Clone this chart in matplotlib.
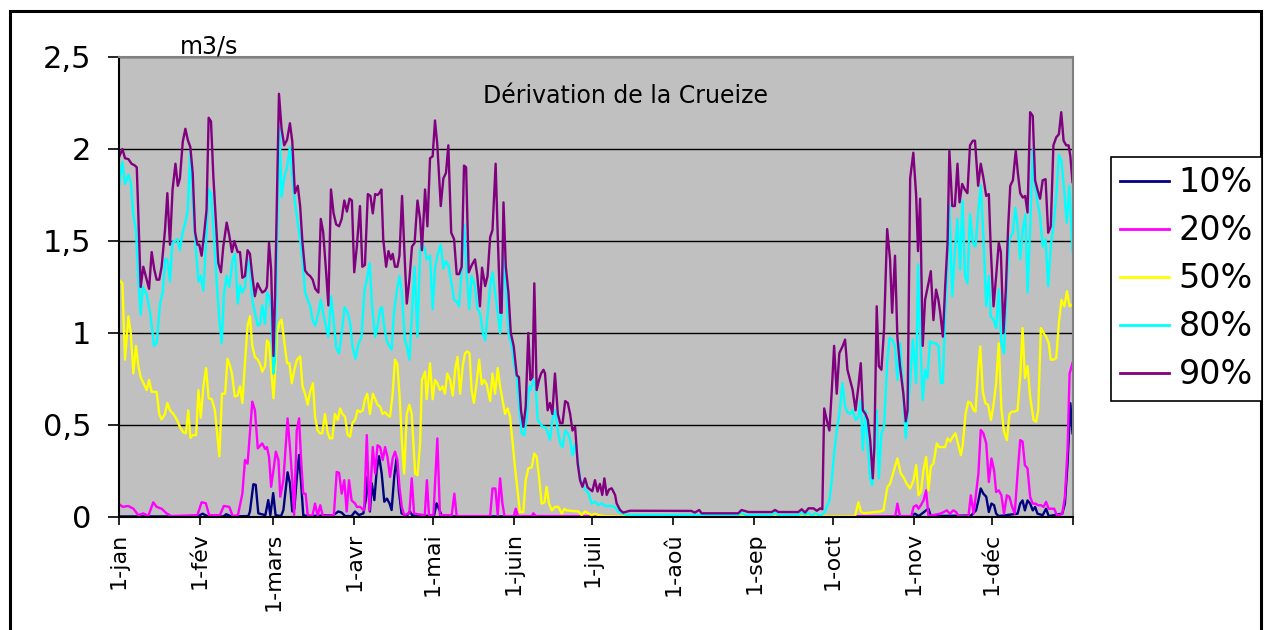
import matplotlib
matplotlib.use('Agg')
import matplotlib.pyplot as plt
from matplotlib.patches import Rectangle

# day of year (0 = 1 jan), flow in m3/s
q10 = [(0, 0.003), (30, 0.003), (32, 0.018), (34, 0.003), (40, 0.003), (41, 0.015), (43, 0.003),
       (49.5, 0.005), (50.1, 0.03), (51.4, 0.178), (52.3, 0.175), (53.3, 0.02), (56.0, 0.01),
       (57.1, 0.092), (57.9, 0.01), (59.0, 0.13), (59.9, 0.01), (62.0, 0.005), (62.9, 0.038),
       (64.5, 0.243), (65.4, 0.183), (66.3, 0.03), (67.1, 0.045), (68.0, 0.21), (68.9, 0.337),
       (69.6, 0.2), (70.5, 0.01), (72, 0.005), (82, 0.01), (83.9, 0.03), (85.2, 0.024), (86.5, 0.005),
       (89, 0.005), (90.3, 0.03), (91.8, 0.01), (93.5, 0.02), (94.4, 0.092), (95.1, 0.22), (96.0, 0.03),
       (96.7, 0.183), (97.7, 0.092), (98.6, 0.255), (99.5, 0.33), (100.5, 0.237), (101.5, 0.083),
       (102.5, 0.10), (103.5, 0.074), (104.3, 0.038), (105.3, 0.22), (106.2, 0.32), (107.1, 0.138),
       (108.1, 0.02), (110, 0.005), (111.3, 0.03), (112.2, 0.01), (120.5, 0.005), (121.5, 0.074),
       (122.4, 0.045), (123.4, 0.01), (125, 0.003), (303, 0.003), (304.5, 0.018), (306, 0.005),
       (308.8, 0.036), (309.7, 0.045), (310.6, 0.005), (326, 0.008), (327.9, 0.036), (328.8, 0.09),
       (329.7, 0.155), (330.7, 0.127), (331.8, 0.11), (332.8, 0.027), (333.8, 0.073), (334.8, 0.064),
       (335.6, 0.018), (336.6, 0.005), (343.8, 0.018), (344.8, 0.073), (345.7, 0.09), (346.6, 0.036),
       (347.6, 0.09), (348.6, 0.073), (349.6, 0.036), (350.5, 0.055), (351.4, 0.018), (353.4, 0.01),
       (354.7, 0.045), (355.7, 0.005), (360.9, 0.018), (361.9, 0.073), (362.9, 0.29), (364.0, 0.618),
       (364.8, 0.455)]

q20 = [(0, 0.07), (1.5, 0.055), (3.5, 0.06), (5.5, 0.045), (7.4, 0.01), (9.3, 0.02), (11.2, 0.005),
       (13.1, 0.08), (14.4, 0.055), (16.3, 0.045), (18.2, 0.02), (20, 0.005), (30, 0.01), (31.6, 0.08),
       (33.2, 0.075), (34.5, 0.01), (38.6, 0.01), (40.1, 0.06), (42.2, 0.055), (43.5, 0.005),
       (45.5, 0.01), (47.2, 0.127), (48.2, 0.31), (49.2, 0.29), (50.1, 0.455), (51.0, 0.627),
       (52.0, 0.58), (53.1, 0.373), (54.8, 0.40), (55.9, 0.37), (56.6, 0.38), (57.4, 0.327),
       (58.2, 0.164), (59.1, 0.255), (60.0, 0.355), (61.0, 0.31), (61.7, 0.11), (62.9, 0.20),
       (64.5, 0.536), (65.4, 0.38), (66.3, 0.20), (67.0, 0.01), (68.0, 0.47), (68.9, 0.536),
       (69.6, 0.327), (70.5, 0.127), (71.4, 0.127), (72.2, 0.01), (74.0, 0.005), (75.0, 0.073),
       (76.0, 0.005), (77.0, 0.064), (78.0, 0.005), (82.2, 0.01), (83.3, 0.245), (84.2, 0.24),
       (85.2, 0.127), (86.2, 0.20), (87.1, 0.03), (88.0, 0.20), (89.0, 0.09), (90.3, 0.074),
       (91.0, 0.055), (92.2, 0.055), (93.8, 0.036), (94.8, 0.445), (95.8, 0.036), (97.1, 0.38),
       (98.0, 0.236), (98.9, 0.39), (99.9, 0.38), (100.9, 0.31), (101.8, 0.38), (102.7, 0.327),
       (103.7, 0.218), (104.7, 0.318), (105.6, 0.355), (106.5, 0.31), (107.3, 0.164), (108.2, 0.055),
       (109.1, 0.01), (111.1, 0.02), (112.0, 0.21), (112.9, 0.018), (117.0, 0.01), (117.8, 0.2),
       (118.6, 0.01), (120.3, 0.01), (121.8, 0.427), (122.8, 0.01), (127.3, 0.01), (128.3, 0.127),
       (129.2, 0.005), (142.0, 0.005), (142.9, 0.155), (144.0, 0.155), (144.9, 0.01), (145.8, 0.21),
       (146.7, 0.073), (147.5, 0.005), (151.0, 0.005), (151.8, 0.045), (152.6, 0.005), (158.0, 0.005),
       (158.5, 0.02), (159.5, 0.005), (297.0, 0.003), (297.8, 0.073), (298.8, 0.005), (303.2, 0.005),
       (304.0, 0.055), (305.1, 0.064), (305.9, 0.045), (306.8, 0.064), (307.8, 0.09), (308.8, 0.145),
       (309.7, 0.005), (314.2, 0.018), (315.5, 0.027), (316.7, 0.036), (317.9, 0.018), (319.2, 0.036),
       (320.3, 0.027), (321.2, 0.004), (325.0, 0.004), (325.9, 0.118), (327.0, 0.018), (327.9, 0.127),
       (328.8, 0.236), (329.7, 0.473), (330.7, 0.455), (331.8, 0.40), (332.8, 0.19), (333.8, 0.318),
       (334.8, 0.255), (335.6, 0.136), (336.6, 0.145), (337.6, 0.118), (338.6, 0.018), (339.7, 0.118),
       (340.7, 0.109), (341.7, 0.055), (342.7, 0.018), (343.8, 0.236), (344.8, 0.418), (345.7, 0.41),
       (346.6, 0.282), (347.6, 0.264), (348.6, 0.109), (349.6, 0.073), (350.6, 0.073), (351.7, 0.064),
       (352.7, 0.064), (353.7, 0.055), (354.7, 0.082), (355.7, 0.045), (357.8, 0.045), (358.8, 0.01),
       (359.9, 0.01), (360.9, 0.018), (361.9, 0.11), (362.9, 0.364), (363.7, 0.78), (364.8, 0.836)]

q50 = [(0, 1.29), (1.3, 1.27), (2.3, 0.855), (3.6, 1.09), (4.5, 1.0), (5.5, 0.78), (6.5, 0.93),
       (7.4, 0.82), (8.3, 0.76), (9.3, 0.73), (10.6, 0.69), (11.5, 0.745), (12.5, 0.68), (14.4, 0.68),
       (15.4, 0.56), (16.3, 0.53), (17.6, 0.56), (18.5, 0.62), (19.5, 0.58), (20.8, 0.56), (22.1, 0.53),
       (23.3, 0.49), (24.6, 0.46), (25.6, 0.455), (26.5, 0.58), (27.3, 0.43), (28.2, 0.445),
       (29.5, 0.445), (30.4, 0.69), (31.3, 0.54), (32.3, 0.71), (33.3, 0.81), (34.3, 0.645),
       (35.5, 0.64), (36.7, 0.58), (38.4, 0.33), (39.4, 0.67), (40.6, 0.67), (41.5, 0.86), (42.5, 0.82),
       (43.2, 0.78), (44.3, 0.655), (45.4, 0.66), (46.3, 0.71), (47.2, 0.62), (48.2, 0.84), (49.2, 1.04),
       (50.1, 1.09), (51.0, 0.93), (52.0, 0.87), (53.1, 0.855), (54.0, 0.83), (54.8, 0.79), (55.9, 0.82),
       (56.6, 0.96), (57.4, 0.945), (58.1, 0.82), (59.1, 0.645), (59.7, 0.78), (60.5, 1.0), (61.4, 1.055),
       (62.2, 1.073), (63.3, 0.945), (64.3, 0.836), (65.2, 0.836), (66.1, 0.727), (67.1, 0.80),
       (68.1, 0.855), (69.3, 0.873), (70.2, 0.71), (71.2, 0.67), (72.2, 0.61), (73.1, 0.68),
       (74.2, 0.727), (75.0, 0.545), (76.0, 0.47), (76.9, 0.455), (77.8, 0.455), (78.8, 0.56),
       (79.8, 0.46), (80.7, 0.427), (81.6, 0.427), (82.6, 0.56), (83.7, 0.527), (84.6, 0.59),
       (85.5, 0.56), (86.5, 0.545), (87.5, 0.445), (88.4, 0.436), (89.3, 0.51), (90.3, 0.527),
       (91.3, 0.58), (92.3, 0.57), (93.3, 0.58), (94.1, 0.64), (95.0, 0.67), (96.0, 0.56), (97.1, 0.67),
       (98.0, 0.64), (98.9, 0.61), (99.9, 0.60), (100.9, 0.56), (101.8, 0.57), (102.7, 0.555),
       (103.7, 0.545), (104.7, 0.67), (105.6, 0.855), (106.5, 0.83), (107.3, 0.67), (108.2, 0.42),
       (109.1, 0.236), (110.1, 0.56), (111.1, 0.61), (112.0, 0.56), (113.3, 0.236), (114.2, 0.227),
       (115.2, 0.40), (115.9, 0.745), (117.1, 0.79), (117.7, 0.64), (119.0, 0.836), (120.0, 0.64),
       (120.9, 0.745), (121.8, 0.727), (122.8, 0.69), (123.8, 0.71), (124.7, 0.67), (125.6, 0.78),
       (126.7, 0.745), (127.7, 0.66), (128.6, 0.80), (129.5, 0.87), (130.5, 0.67), (131.5, 0.82),
       (132.4, 0.89), (133.3, 0.90), (134.1, 0.89), (134.9, 0.69), (135.8, 0.62), (136.8, 0.727),
       (137.8, 0.855), (138.8, 0.72), (139.7, 0.745), (140.7, 0.72), (142.0, 0.63), (142.9, 0.78),
       (143.9, 0.67), (144.9, 0.81), (145.8, 0.71), (146.7, 0.64), (147.7, 0.56), (148.7, 0.59),
       (149.6, 0.545), (150.5, 0.42), (151.5, 0.27), (152.6, 0.127), (153.4, 0.027), (154.7, 0.027),
       (155.6, 0.20), (156.6, 0.264), (157.9, 0.27), (158.9, 0.345), (159.8, 0.327), (160.7, 0.218),
       (161.7, 0.073), (162.8, 0.08), (163.6, 0.164), (164.5, 0.073), (165.6, 0.036), (166.8, 0.055),
       (168.1, 0.055), (169.4, 0.018), (170.4, 0.045), (171.3, 0.036), (173.2, 0.033), (175.8, 0.03),
       (177.0, 0.01), (178.3, 0.03), (179.6, 0.02), (180.9, 0.01), (182.1, 0.018), (183.4, 0.01),
       (186.0, 0.005), (190.0, 0.004), (281.6, 0.004), (282.9, 0.08), (283.8, 0.03), (284.8, 0.02),
       (291.2, 0.03), (292.5, 0.036), (294.0, 0.164), (295.0, 0.18), (296.3, 0.245), (297.8, 0.318),
       (299.1, 0.236), (300.1, 0.218), (301.4, 0.18), (302.7, 0.155), (304.0, 0.20), (305.0, 0.282),
       (305.9, 0.118), (306.8, 0.136), (307.8, 0.255), (308.8, 0.327), (309.7, 0.145), (310.6, 0.273),
       (311.6, 0.29), (312.9, 0.40), (313.8, 0.38), (315.2, 0.38), (316.1, 0.38), (317.0, 0.427),
       (318.0, 0.41), (319.0, 0.436), (320.0, 0.455), (321.0, 0.40), (322.1, 0.336), (322.8, 0.39),
       (323.9, 0.56), (324.9, 0.627), (325.9, 0.618), (327.0, 0.58), (327.7, 0.573), (328.7, 0.80),
       (329.5, 0.927), (330.5, 0.68), (331.5, 0.618), (332.5, 0.61), (333.6, 0.527), (334.6, 0.61),
       (335.6, 0.727), (336.6, 0.945), (337.6, 0.59), (338.6, 0.464), (339.7, 0.418), (340.7, 0.56),
       (341.7, 0.573), (342.7, 0.573), (343.8, 0.58), (344.8, 0.764), (345.7, 1.027), (346.6, 0.755),
       (347.6, 0.82), (348.6, 0.655), (349.9, 0.527), (350.9, 0.518), (351.7, 0.58), (352.7, 1.027),
       (353.7, 1.0), (354.7, 0.98), (355.7, 0.945), (356.5, 0.855), (357.5, 0.855), (358.6, 0.864),
       (359.6, 1.055), (360.6, 1.18), (361.7, 1.145), (362.7, 1.227), (363.7, 1.145), (364.8, 1.155)]

q80 = [(0, 1.80), (1.3, 1.93), (2.3, 1.81), (3.6, 1.86), (4.5, 1.82), (5.5, 1.64), (6.5, 1.56),
       (7.4, 1.29), (8.3, 1.10), (9.1, 1.25), (10.6, 1.21), (11.9, 1.11), (13.4, 0.93), (14.4, 0.945),
       (15.7, 1.16), (16.7, 1.22), (17.7, 1.40), (18.5, 1.40), (19.5, 1.28), (20.4, 1.49), (21.4, 1.50),
       (22.4, 1.51), (23.3, 1.45), (24.4, 1.55), (25.4, 1.60), (26.3, 1.67), (27.3, 1.99), (28.4, 1.67),
       (29.5, 1.44), (30.4, 1.28), (31.3, 1.31), (32.3, 1.23), (33.2, 1.47), (34.3, 1.78), (35.2, 1.76),
       (36.4, 1.51), (37.4, 1.27), (38.4, 1.07), (39.3, 0.945), (40.2, 1.22), (41.2, 1.31), (42.2, 1.25),
       (43.5, 1.40), (44.4, 1.43), (45.4, 1.16), (46.3, 1.26), (47.2, 1.22), (48.2, 1.25), (49.2, 1.40),
       (50.1, 1.34), (51.0, 1.18), (52.0, 1.11), (53.1, 1.04), (54.0, 1.05), (54.8, 1.15), (55.9, 1.05),
       (56.6, 1.22), (57.4, 1.20), (58.2, 1.13), (59.1, 0.78), (59.7, 0.855), (60.5, 1.51), (61.4, 2.12),
       (62.2, 1.74), (63.3, 1.85), (64.3, 1.90), (65.4, 2.01), (66.3, 1.84), (67.3, 1.71), (68.4, 1.60),
       (69.3, 1.51), (70.2, 1.40), (71.2, 1.22), (72.2, 1.18), (73.1, 1.15), (74.1, 1.07), (75.1, 1.04),
       (76.3, 1.11), (77.2, 1.18), (78.1, 1.11), (79.1, 1.04), (80.1, 0.98), (81.1, 1.20), (82.1, 1.07),
       (83.1, 0.92), (84.2, 0.89), (85.2, 1.0), (86.3, 1.14), (87.5, 1.11), (88.5, 1.05), (89.3, 0.93),
       (90.5, 0.86), (91.6, 0.94), (92.8, 0.98), (93.9, 1.23), (94.8, 1.29), (95.9, 1.38), (96.8, 1.15),
       (98.0, 0.98), (99.0, 1.04), (99.9, 1.13), (100.6, 1.14), (101.4, 1.04), (102.4, 0.96),
       (103.4, 0.93), (104.3, 0.91), (105.2, 1.11), (106.2, 1.22), (107.3, 1.31), (108.2, 1.22),
       (109.4, 0.96), (110.1, 0.93), (111.1, 0.855), (112.1, 1.11), (113.1, 1.36), (114.2, 0.98),
       (115.2, 1.445), (115.9, 1.49), (117.1, 1.45), (117.7, 1.40), (119.0, 1.42), (120.0, 1.13),
       (120.9, 1.35), (121.8, 1.42), (123.1, 1.48), (124.1, 1.35), (125.1, 1.39), (126.0, 1.37),
       (127.0, 1.29), (128.2, 1.18), (129.2, 1.17), (130.1, 1.145), (131.1, 1.35), (132.0, 1.59),
       (133.1, 1.31), (134.0, 1.13), (134.9, 1.31), (136.2, 1.255), (137.1, 1.13), (138.1, 1.11),
       (139.2, 1.0), (140.1, 0.96), (141.1, 1.11), (142.0, 1.255), (142.9, 1.33), (143.9, 1.22),
       (144.9, 1.11), (145.8, 1.0), (146.4, 1.11), (147.1, 1.42), (148.0, 1.255), (149.0, 1.0),
       (150.3, 0.93), (151.3, 0.82), (152.2, 0.76), (153.0, 0.62), (154.1, 0.455), (155.1, 0.445),
       (156.0, 0.545), (156.9, 0.71), (157.6, 0.69), (158.5, 0.745), (159.4, 0.71), (160.2, 0.527),
       (161.1, 0.51), (162.0, 0.49), (162.8, 0.49), (163.8, 0.47), (164.9, 0.42), (165.8, 0.527),
       (166.8, 0.58), (167.9, 0.47), (168.8, 0.40), (169.7, 0.38), (170.7, 0.47), (171.7, 0.455),
       (172.6, 0.42), (173.5, 0.336), (174.5, 0.40), (175.5, 0.31), (176.4, 0.21), (177.3, 0.18),
       (178.3, 0.15), (179.6, 0.13), (180.8, 0.074), (182.1, 0.083), (183.4, 0.065), (184.7, 0.074),
       (186.0, 0.06), (188.5, 0.06), (189.8, 0.053), (191.0, 0.029), (192.3, 0.02), (194.9, 0.011),
       (237.0, 0.011), (238.2, 0.024), (239.5, 0.011), (249.7, 0.011), (251.0, 0.024), (252.3, 0.011),
       (259.9, 0.011), (261.2, 0.024), (262.5, 0.011), (263.8, 0.024), (265.0, 0.005), (266.3, 0.02),
       (267.6, 0.011), (268.8, 0.011), (270.1, 0.029), (270.8, 0.055), (271.8, 0.09), (272.7, 0.20),
       (273.6, 0.345), (274.6, 0.47), (275.6, 0.56), (276.8, 0.727), (277.8, 0.60), (278.7, 0.57),
       (279.7, 0.56), (280.7, 0.58), (281.8, 0.527), (282.9, 0.545), (283.8, 0.636), (284.6, 0.364),
       (285.6, 0.58), (286.5, 0.38), (287.4, 0.21), (288.2, 0.173), (289.0, 0.455), (289.9, 0.58),
       (290.7, 0.21), (291.7, 0.455), (292.7, 0.49), (293.9, 0.836), (294.8, 0.973), (295.8, 0.964),
       (296.9, 0.93), (297.8, 0.745), (298.8, 0.945), (300.1, 0.655), (301.0, 0.427), (301.7, 0.56),
       (302.7, 0.745), (303.7, 0.964), (305.0, 0.727), (305.7, 1.373), (306.5, 1.0), (307.5, 0.636),
       (308.4, 0.80), (309.3, 0.755), (310.3, 0.955), (311.4, 0.945), (312.4, 0.945), (313.5, 0.93),
       (314.4, 0.73), (315.2, 0.727), (316.1, 1.11), (317.0, 1.36), (317.7, 1.70), (318.8, 1.20),
       (319.8, 1.44), (320.8, 1.62), (321.8, 1.345), (322.7, 1.72), (323.7, 1.31), (324.6, 1.27),
       (325.6, 1.645), (326.7, 1.49), (327.7, 1.47), (328.7, 1.655), (329.7, 1.80), (330.7, 1.53),
       (331.8, 1.145), (332.8, 1.31), (333.5, 1.09), (334.6, 1.073), (335.6, 1.027), (336.6, 1.236),
       (337.6, 0.945), (338.6, 0.89), (339.7, 1.29), (340.7, 1.51), (342.0, 1.545), (342.9, 1.68),
       (343.8, 1.58), (344.8, 1.40), (345.8, 1.565), (346.8, 1.645), (347.6, 1.22), (348.6, 1.565),
       (349.6, 2.0), (350.5, 1.80), (351.4, 1.71), (352.4, 1.636), (353.4, 1.47), (354.5, 1.51),
       (355.5, 1.255), (356.5, 1.47), (357.5, 1.58), (358.6, 1.745), (359.6, 1.97), (360.6, 1.93),
       (361.6, 1.78), (362.6, 1.60), (363.6, 1.80), (364.8, 1.44)]

q90 = [(0, 1.955), (1.3, 2.0), (2.3, 1.95), (3.6, 1.945), (4.8, 1.92), (6.1, 1.91), (6.8, 1.90),
       (8.3, 1.25), (9.3, 1.36), (10.6, 1.29), (11.5, 1.24), (12.5, 1.44), (13.5, 1.345), (14.4, 1.29),
       (15.4, 1.29), (16.3, 1.36), (17.6, 1.56), (18.5, 1.76), (19.5, 1.48), (20.5, 1.78), (21.6, 1.92),
       (22.5, 1.80), (23.3, 1.84), (24.4, 2.04), (25.4, 2.11), (26.3, 2.05), (27.3, 2.01), (28.2, 1.87),
       (29.1, 1.55), (30.0, 1.48), (30.7, 1.48), (31.6, 1.42), (32.5, 1.53), (33.5, 1.67), (34.3, 2.17),
       (35.2, 2.15), (36.1, 1.85), (37.1, 1.60), (38.0, 1.38), (39.0, 1.33), (39.9, 1.47), (41.2, 1.60),
       (42.2, 1.53), (43.2, 1.44), (44.1, 1.50), (45.4, 1.44), (46.3, 1.44), (47.2, 1.30), (48.2, 1.31),
       (49.2, 1.45), (50.1, 1.43), (51.0, 1.31), (52.0, 1.20), (53.0, 1.27), (54.0, 1.24), (54.8, 1.22),
       (55.9, 1.23), (56.6, 1.25), (57.4, 1.49), (58.2, 1.345), (59.1, 0.875), (59.7, 1.20), (61.2, 2.30),
       (62.2, 2.11), (63.2, 2.02), (64.3, 2.05), (65.4, 2.14), (66.3, 2.04), (67.3, 1.76), (68.4, 1.80),
       (69.3, 1.69), (70.2, 1.49), (71.2, 1.34), (72.2, 1.32), (73.1, 1.31), (74.1, 1.29), (75.1, 1.24),
       (76.3, 1.22), (77.2, 1.62), (78.1, 1.55), (79.1, 1.36), (80.1, 1.15), (81.1, 1.78), (82.1, 1.65),
       (83.1, 1.59), (84.2, 1.58), (85.2, 1.62), (86.2, 1.72), (87.2, 1.66), (88.2, 1.73), (89.1, 1.72),
       (90.0, 1.33), (91.0, 1.47), (92.2, 1.69), (93.1, 1.36), (94.1, 1.37), (95.2, 1.755), (96.2, 1.745),
       (97.1, 1.65), (98.0, 1.755), (98.9, 1.75), (99.6, 1.76), (100.4, 1.78), (101.1, 1.51),
       (102.2, 1.36), (103.1, 1.445), (104.0, 1.40), (104.7, 1.43), (105.6, 1.36), (106.5, 1.36),
       (107.3, 1.42), (108.3, 1.745), (109.2, 1.44), (110.1, 1.16), (111.1, 1.29), (112.1, 1.47),
       (113.1, 1.49), (114.2, 1.72), (115.2, 1.62), (115.9, 1.45), (117.1, 1.78), (118.0, 1.58),
       (119.0, 1.95), (120.0, 1.96), (120.9, 2.155), (121.8, 2.02), (123.1, 1.69), (124.1, 1.84),
       (125.1, 1.87), (126.0, 2.02), (127.1, 1.545), (128.2, 1.51), (129.2, 1.32), (130.1, 1.32),
       (131.1, 1.36), (132.0, 1.91), (132.8, 1.90), (133.8, 1.33), (135.0, 1.37), (136.2, 1.40),
       (137.1, 1.31), (138.1, 1.145), (138.9, 1.355), (140.1, 1.255), (141.0, 1.31), (142.0, 1.52),
       (142.9, 1.56), (144.1, 1.92), (144.9, 1.53), (145.9, 1.11), (146.4, 1.11), (147.1, 1.71),
       (148.0, 1.36), (149.0, 1.22), (149.9, 1.0), (151.0, 0.93), (152.2, 0.77), (153.0, 0.76),
       (153.8, 0.58), (154.7, 0.49), (155.6, 0.60), (156.6, 1.0), (157.4, 0.745), (158.2, 0.76),
       (158.9, 1.27), (159.8, 0.69), (160.7, 0.745), (161.5, 0.78), (162.4, 0.80), (163.0, 0.78),
       (164.0, 0.58), (164.9, 0.62), (165.8, 0.56), (166.8, 0.78), (167.9, 0.56), (168.8, 0.51),
       (169.7, 0.51), (170.7, 0.63), (171.7, 0.62), (172.6, 0.56), (173.5, 0.47), (174.5, 0.49),
       (175.5, 0.29), (176.4, 0.20), (177.3, 0.164), (178.3, 0.21), (179.3, 0.16), (180.2, 0.15),
       (181.1, 0.14), (182.1, 0.20), (183.1, 0.138), (184.0, 0.18), (184.9, 0.12), (185.7, 0.21),
       (186.6, 0.12), (187.5, 0.15), (188.5, 0.156), (189.8, 0.12), (190.4, 0.074), (191.7, 0.038),
       (192.9, 0.024), (194.2, 0.029), (195.5, 0.034), (219.0, 0.033), (220.3, 0.024), (222.0, 0.038),
       (222.9, 0.02), (236.9, 0.02), (238.2, 0.038), (240.8, 0.027), (249.7, 0.027), (251.0, 0.038),
       (252.3, 0.027), (259.9, 0.027), (261.2, 0.042), (262.5, 0.024), (263.8, 0.047), (265.7, 0.047),
       (267.0, 0.034), (268.3, 0.047), (269.1, 0.042), (269.8, 0.59), (270.8, 0.527), (271.8, 0.47),
       (272.7, 0.685), (273.6, 0.93), (274.6, 0.67), (275.6, 0.89), (276.9, 0.93), (277.8, 0.964),
       (278.7, 0.80), (279.7, 0.745), (280.7, 0.69), (281.8, 0.58), (282.9, 0.71), (283.8, 0.836),
       (284.6, 0.58), (285.6, 0.56), (286.5, 0.527), (287.4, 0.42), (288.4, 0.21), (289.0, 0.38),
       (289.9, 1.145), (290.7, 0.82), (291.7, 0.80), (292.7, 1.02), (293.9, 1.565), (295.0, 1.40),
       (295.8, 1.11), (296.9, 1.42), (297.8, 0.98), (298.8, 0.82), (300.1, 0.67), (301.0, 0.52),
       (301.7, 0.58), (302.7, 1.84), (303.9, 1.98), (305.0, 1.745), (305.7, 1.445), (306.5, 1.73),
       (307.5, 0.93), (308.4, 1.18), (309.7, 1.27), (310.6, 1.336), (311.6, 1.07), (312.6, 1.236),
       (313.5, 1.18), (314.2, 1.11), (315.2, 0.98), (316.1, 1.255), (317.0, 1.49), (317.7, 1.99),
       (318.8, 1.69), (319.8, 1.69), (320.8, 1.92), (321.6, 1.71), (322.6, 1.81), (323.6, 1.78),
       (324.6, 1.76), (325.6, 2.02), (326.7, 2.045), (327.5, 2.045), (328.7, 1.80), (329.7, 1.92),
       (330.7, 1.845), (331.8, 1.745), (332.8, 1.755), (333.5, 1.47), (334.6, 1.145), (335.6, 1.31),
       (336.6, 1.49), (337.4, 1.44), (338.4, 1.0), (339.3, 1.236), (340.2, 1.58), (341.0, 1.80),
       (342.0, 1.83), (343.1, 1.99), (343.9, 1.87), (344.8, 1.76), (345.8, 1.736), (346.7, 1.745),
       (347.6, 1.655), (348.6, 2.2), (349.6, 2.18), (350.5, 1.83), (351.4, 1.78), (352.4, 1.73),
       (353.4, 1.83), (354.5, 1.836), (355.5, 1.545), (356.5, 1.58), (357.5, 2.02), (358.6, 2.064),
       (359.6, 2.08), (360.5, 2.2), (361.4, 2.045), (362.4, 2.02), (363.3, 2.02), (364.0, 1.96),
       (364.8, 1.82)]

series = [('10%', q10, '#000080'), ('20%', q20, '#FF00FF'), ('50%', q50, '#FFFF00'),
          ('80%', q80, '#00FFFF'), ('90%', q90, '#800080')]

month_days = [0, 31, 59, 90, 120, 151, 181, 212, 243, 273, 304, 334]
month_labels = ['1-jan', '1-fév', '1-mars', '1-avr', '1-mai', '1-juin', '1-juil', '1-aoû',
                '1-sep', '1-oct', '1-nov', '1-déc']
y_ticks = [0, 0.5, 1, 1.5, 2, 2.5]
y_labels = ['0', '0,5', '1', '1,5', '2', '2,5']

W, H = 1264, 630
fig = plt.figure(figsize=(W / 100, H / 100), dpi=100)
fig.patch.set_facecolor('white')

ax = fig.add_axes([119 / W, 1 - 517 / H, 954 / W, 460 / H])
ax.set_facecolor('#C0C0C0')

for name, pts, col in series:
    days = [p[0] for p in pts]
    vals = [p[1] for p in pts]
    ax.plot(days, vals, color=col, lw=1.7, label=name)

ax.set_xlim(0, 365)
ax.set_ylim(0, 2.5)
ax.set_yticks(y_ticks)
ax.set_yticklabels(y_labels, fontsize=22)
ax.set_xticks(month_days + [365])
ax.set_xticklabels(month_labels + [''], rotation=90, fontsize=16)
ax.tick_params(axis='y', length=8, width=1.2, pad=12)
ax.tick_params(axis='x', length=6, width=1.2, pad=5)
ax.yaxis.grid(True, color='black', lw=1)
ax.set_axisbelow(True)
for s in ['left', 'bottom']:
    ax.spines[s].set_color('black')
    ax.spines[s].set_linewidth(1.5)
for s in ['top', 'right']:
    ax.spines[s].set_color('#808080')
    ax.spines[s].set_linewidth(1.5)

ax.text(0.531, 0.915, 'Dérivation de la Crueize', transform=ax.transAxes,
        ha='center', va='center', fontsize=17)
fig.text(209 / W, 1 - 47 / H, 'm3/s', ha='center', va='center', fontsize=17)

leg = fig.legend(loc='upper left', bbox_to_anchor=(1111 / W, 1 - 157 / H), fontsize=24,
                 frameon=True, fancybox=False, framealpha=1, edgecolor='black',
                 handlelength=1.45, handletextpad=0.3, labelspacing=0.45, borderpad=0.28,
                 borderaxespad=0)
leg.get_frame().set_linewidth(1.2)
for line in leg.get_lines():
    line.set_linewidth(2)

# outer chart border
fig.patches.append(Rectangle((10 / W, -0.05), (1261 - 10) / W, (H - 11) / H + 0.05,
                             transform=fig.transFigure, fill=False, ec='black', lw=2.2))

fig.savefig('out.png', dpi=100)
